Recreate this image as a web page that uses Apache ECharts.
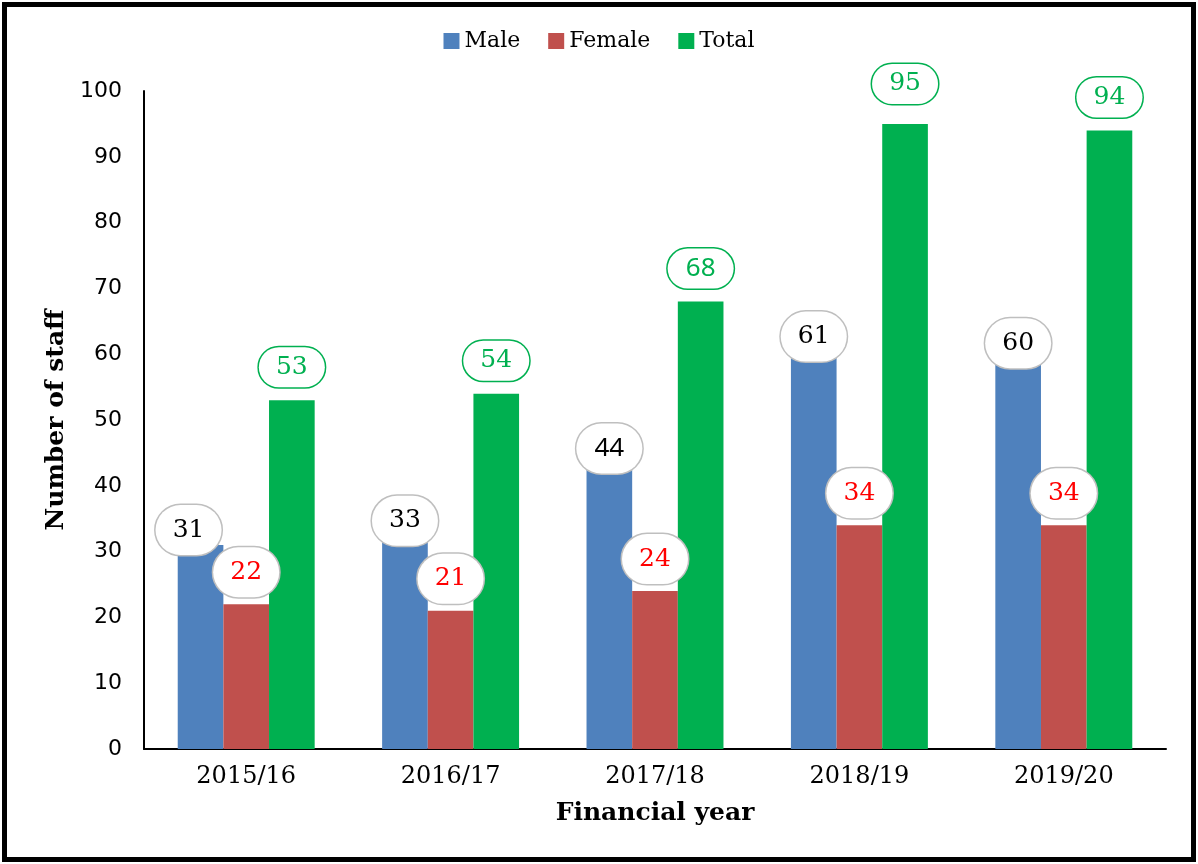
<!DOCTYPE html>
<html>
<head>
<meta charset="utf-8">
<script src="https://cdn.jsdelivr.net/npm/echarts@6/dist/echarts.min.js"></script>
<style>
  html, body { margin: 0; padding: 0; background: #fff; }
  #main { width: 1198px; height: 864px; }
</style>
</head>
<body>
<div id="main"></div>
<script>
// 数据
var years = ['2015/16', '2016/17', '2017/18', '2018/19', '2019/20'];
var male = [31, 33, 44, 61, 60];
var female = [22, 21, 24, 34, 34];
var total = [53, 54, 68, 95, 94];
var yTicks = [0, 10, 20, 30, 40, 50, 60, 70, 80, 90, 100];

var serif = 'DejaVu Serif';

// 椭圆形标签
function bubble(color, border, h, dist) {
  return {
    show: true,
    position: 'top',
    distance: dist,
    color: color,
    fontFamily: serif,
    fontSize: 25,
    backgroundColor: '#fff',
    borderColor: border,
    borderWidth: 1.5,
    borderRadius: 33,
    width: 66,
    height: h,
    lineHeight: h,
    align: 'center',
    padding: 0
  };
}

var maleData = male.map(function (v, i) {
  if (i === 0) return { value: v, label: { offset: [-12, -4] } };
  if (v === 44) return { value: v, label: { fontFamily: 'Noto Sans', fontSize: 26 } };
  return v;
});
var totalData = total.map(function (v) {
  if (v === 95) return { value: v, label: { distance: 20 } };
  if (v === 68) return { value: v, label: { fontFamily: 'Noto Sans', fontSize: 26 } };
  return v;
});

var chart = echarts.init(document.getElementById('main'));
var option = {
  animation: false,
  backgroundColor: '#fff',
  graphic: [{
    type: 'rect',
    shape: { x: 4.5, y: 4.5, width: 1189, height: 855 },
    style: { fill: 'none', stroke: '#000', lineWidth: 5 },
    silent: true
  }],
  legend: {
    top: 25,
    left: 'center',
    itemWidth: 16,
    itemHeight: 16,
    itemGap: 28,
    itemTextGap: 4,
    icon: 'rect',
    textStyle: { fontFamily: serif, fontSize: 22, color: '#000' },
    data: ['Male', 'Female', 'Total']
  },
  grid: { left: 144, right: 32, top: 91, bottom: 115 },
  xAxis: {
    type: 'category',
    data: years,
    name: 'Financial year',
    nameLocation: 'middle',
    nameGap: 52,
    nameTextStyle: { fontFamily: serif, fontSize: 25, fontWeight: 'bold', color: '#000' },
    axisLine: { lineStyle: { color: '#000', width: 2 } },
    axisTick: { show: false },
    axisLabel: { margin: 16, fontFamily: serif, fontSize: 24, color: '#000' }
  },
  yAxis: {
    type: 'value',
    min: yTicks[0],
    max: yTicks[yTicks.length - 1],
    interval: 10,
    name: 'Number of staff',
    nameLocation: 'middle',
    nameGap: 74,
    nameTextStyle: { fontFamily: serif, fontSize: 25, fontWeight: 'bold', color: '#000' },
    axisLine: { show: true, lineStyle: { color: '#000', width: 2 } },
    axisTick: { show: false },
    splitLine: { show: false },
    axisLabel: { margin: 22, fontFamily: 'DejaVu Sans', fontSize: 22, color: '#000' }
  },
  series: [
    {
      name: 'Male', type: 'bar', data: maleData,
      barGap: '0%', barCategoryGap: '33%',
      itemStyle: { color: '#4F81BD' },
      label: bubble('#000', '#BFBFBF', 50, -14)
    },
    {
      name: 'Female', type: 'bar', data: female,
      itemStyle: { color: '#C0504D' },
      label: bubble('#FF0000', '#BFBFBF', 50, 7)
    },
    {
      name: 'Total', type: 'bar', data: totalData,
      itemStyle: { color: '#00B050' },
      label: bubble('#00B050', '#00B050', 40, 13)
    }
  ]
};
chart.setOption(option);
</script>
</body>
</html>
